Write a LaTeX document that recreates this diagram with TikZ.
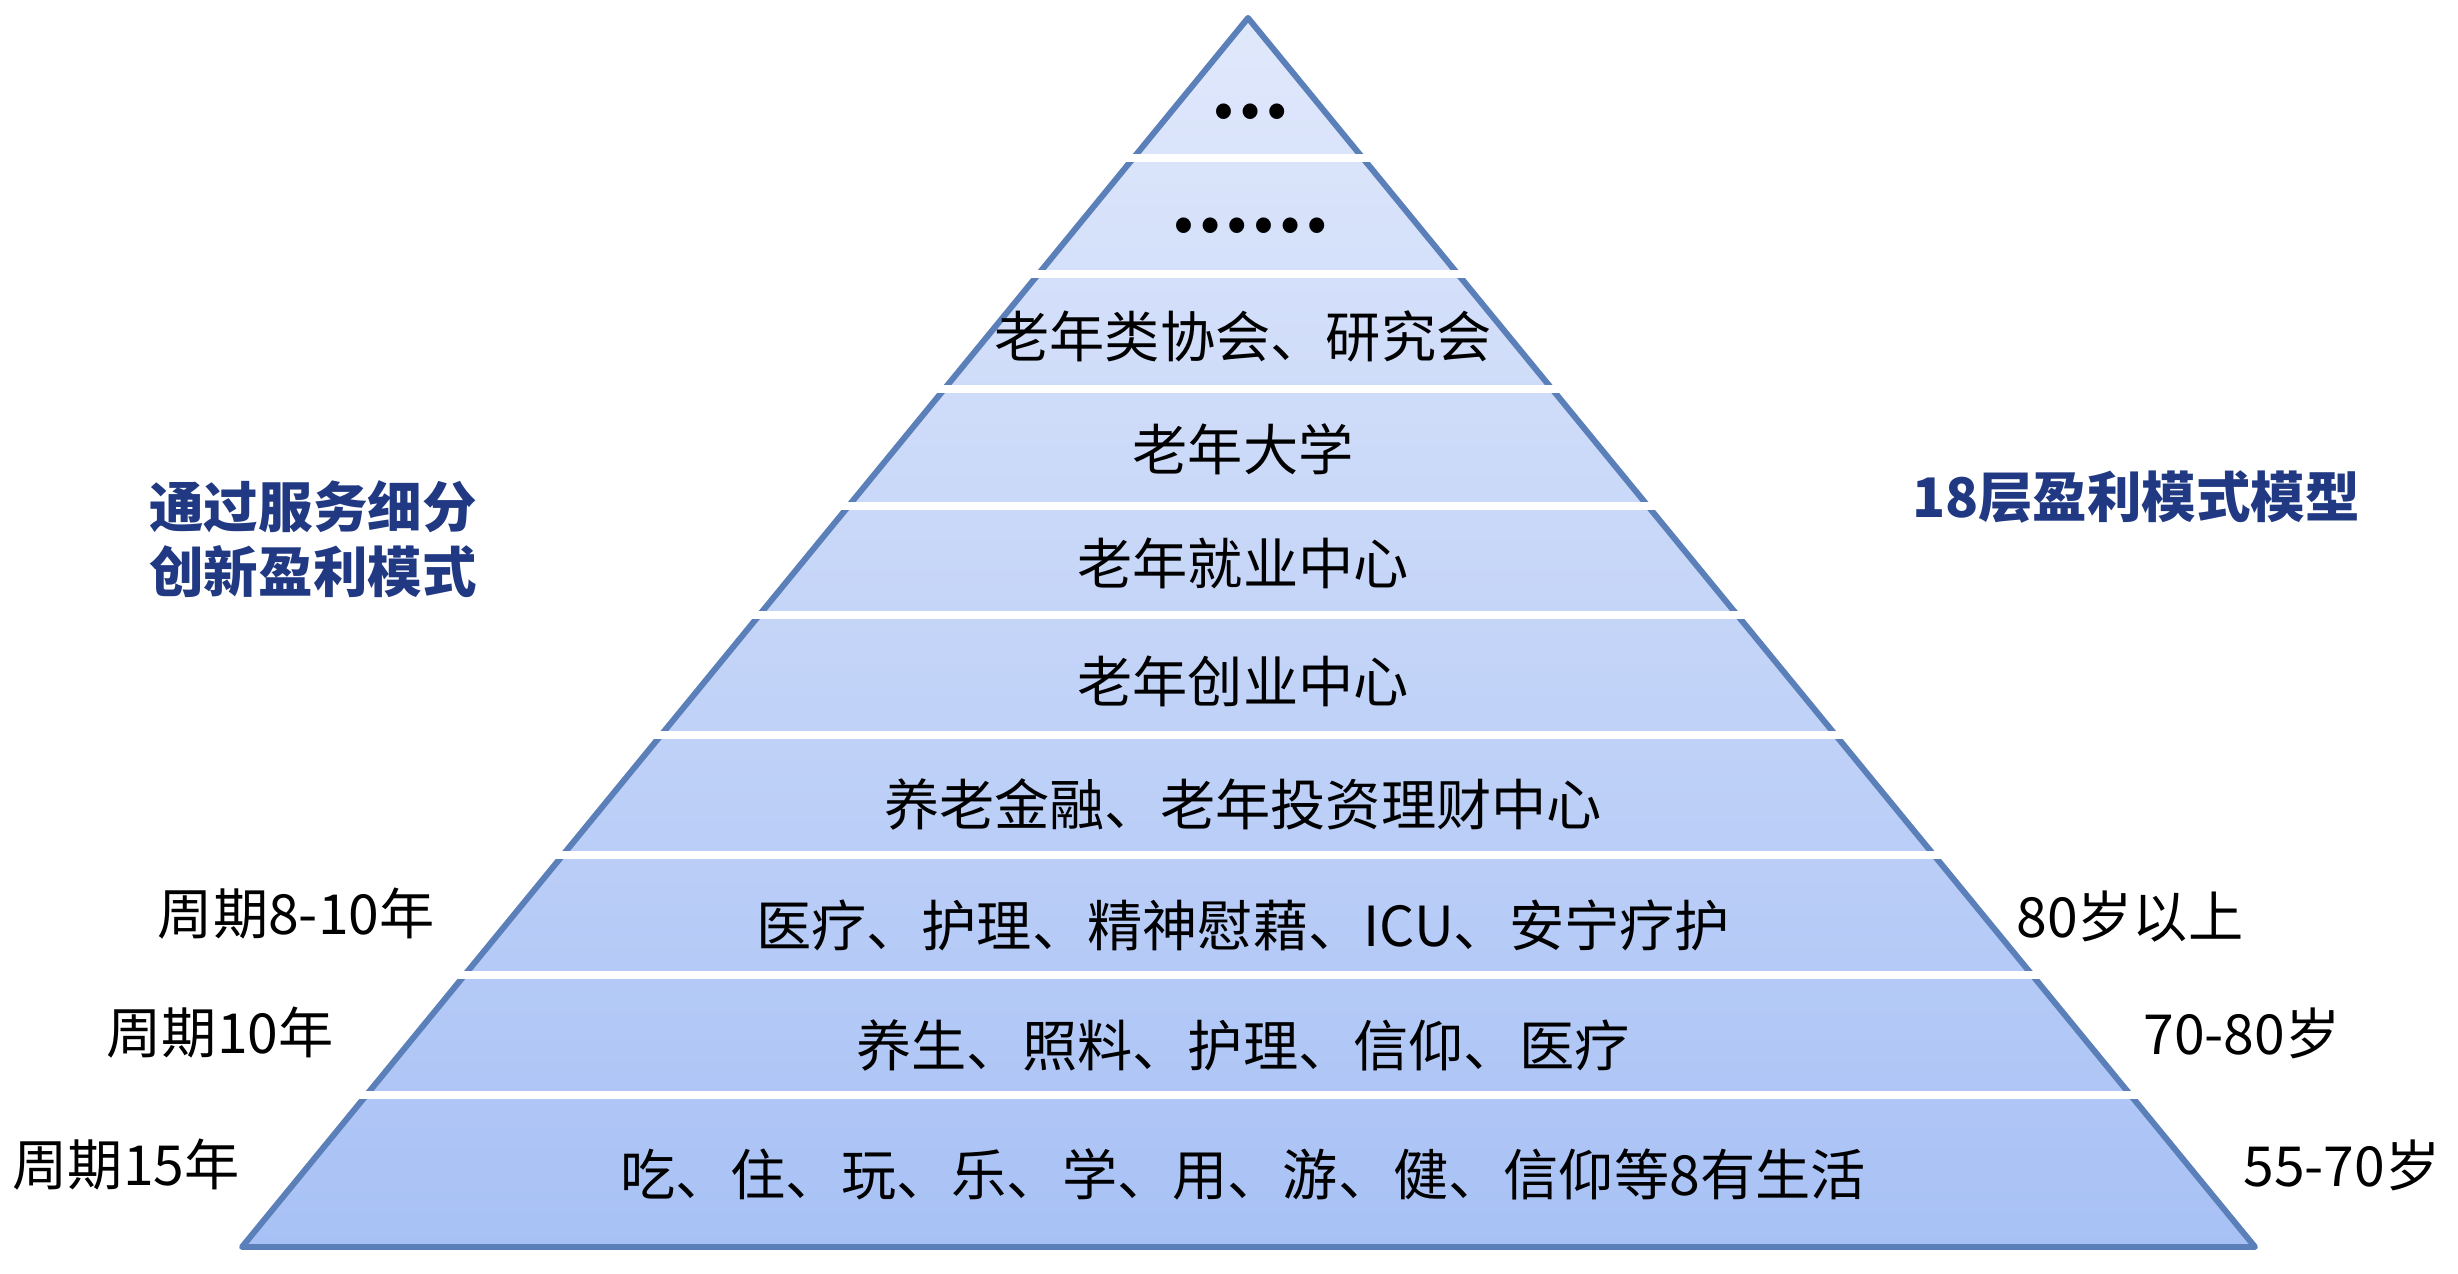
\documentclass[tikz,border=0pt]{standalone}
\usepackage{fontspec}
\setmainfont{Noto Sans CJK SC}
\definecolor{edgeblue}{RGB}{91,128,185}
\definecolor{toplight}{RGB}{224,232,251}
\definecolor{basedark}{RGB}{168,193,245}
\definecolor{titleblue}{RGB}{32,57,130}

\begin{document}
\begin{tikzpicture}[x=0.01cm,y=-0.01cm,
    band/.style={font=\fontsize{15.7}{18}\selectfont,text=black},
    dots/.style={font=\fontsize{20}{20}\selectfont\bfseries,text=black},
    side/.style={font=\fontsize{15.7}{18}\selectfont,text=black},
    title/.style={font=\fontsize{15.5}{18.5}\selectfont\bfseries,text=titleblue,align=left},
    gap/.style={white,line width=2pt}]

    \useasboundingbox (0,0) rectangle (2458,1274);

    % pyramid corners
    \coordinate (T) at (1248,18);
    \coordinate (L) at (242,1247);
    \coordinate (R) at (2255,1247);

    % shade & outline
    \shade[top color=toplight,bottom color=basedark] (T) -- (L) -- (R) -- cycle;
    \draw[edgeblue,line width=1.7pt,line join=round] (T) -- (L) -- (R) -- cycle;

    % cut into layers
    \foreach \y in {158,274,389,506,615,735,855,975,1095}
        \draw[gap] (200,\y) -- (2300,\y);

    % layer texts
    \node[dots] (lay1) at (1250,112) {…};
    \node[dots] (lay2) at (1250,226) {……};
    \node[band] (lay3) at (1243,336) {老年类协会、研究会};
    \node[band] (lay4) at (1243,449) {老年大学};
    \node[band] (lay5) at (1243,563) {老年就业中心};
    \node[band] (lay6) at (1243,681) {老年创业中心};
    \node[band] (lay7) at (1243,804) {养老金融、老年投资理财中心};
    \node[band] (lay8) at (1243,925) {医疗、护理、精神慰藉、ICU、安宁疗护};
    \node[band] (lay9) at (1243,1045) {养生、照料、护理、信仰、医疗};
    \node[band] (lay10) at (1243,1174) {吃、住、玩、乐、学、用、游、健、信仰等8有生活};

    % cycles on the left
    \node[side,anchor=east] (cyc1) at (447,914) {周期8-10年};
    \node[side,anchor=east] (cyc2) at (346,1033) {周期10年};
    \node[side,anchor=east] (cyc3) at (252,1165) {周期15年};

    % ages on the right
    \node[side,anchor=west] (age1) at (2004,917) {80岁以上};
    \node[side,anchor=west] (age2) at (2131,1033) {70-80岁};
    \node[side,anchor=west] (age3) at (2231,1165) {55-70岁};

    % titles
    \node[title] (leftT) at (313,539) {通过服务细分\\创新盈利模式};
    \node[title] (rightT) at (2136,497) {18层盈利模式模型};
\end{tikzpicture}
\end{document}
